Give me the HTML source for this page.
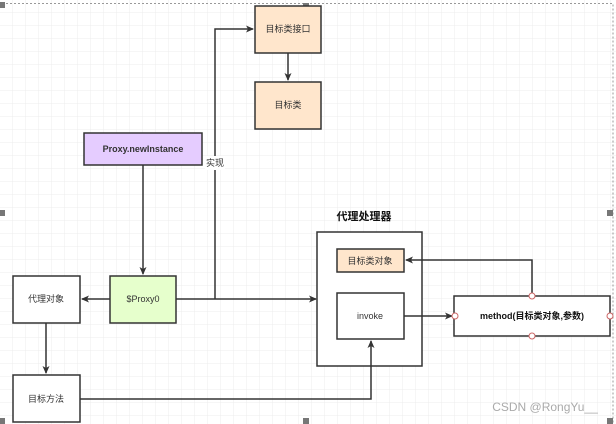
<!DOCTYPE html>
<html><head><meta charset="utf-8"><style>
body{margin:0;width:616px;height:424px;overflow:hidden;background:#fff}
svg{display:block}
text{font-family:"Liberation Sans","Noto Sans CJK SC",sans-serif;font-size:9px;fill:#333;text-anchor:middle;dominant-baseline:central}
</style></head><body>
<svg width="616" height="424" viewBox="0 0 616 424">
<defs>
<pattern id="g" width="13" height="13" patternUnits="userSpaceOnUse"><path d="M13 0V13H0" fill="none" stroke="#ececec" stroke-width="1"/></pattern>
<marker id="a" markerWidth="8" markerHeight="8" refX="7" refY="4" orient="auto" markerUnits="userSpaceOnUse"><path d="M0,0.5L8,4L0,7.5L2,4Z" fill="#333"/></marker>
</defs>
<rect width="616" height="424" fill="url(#g)"/>
<path d="M2 3.5H613V424" fill="none" stroke="#999" stroke-dasharray="2,2"/>
<g fill="#777"><rect x="0" y="2" width="5" height="6"/><rect x="303" y="3" width="6" height="6"/><rect x="0" y="210" width="5" height="6"/><rect x="607" y="210" width="6" height="6"/><rect x="0" y="418" width="5" height="6"/><rect x="303" y="418" width="6" height="6"/><rect x="607" y="418" width="6" height="6"/></g>
<g stroke="#333" stroke-width="1.5">
<rect x="255" y="6" width="66" height="47" fill="#ffe6cc"/>
<rect x="255" y="82" width="66" height="47" fill="#ffe6cc"/>
<rect x="84" y="133" width="118" height="32" fill="#e5ccff"/>
<rect x="13" y="276" width="67" height="47" fill="#fff"/>
<rect x="110" y="276" width="66" height="47" fill="#e6ffcc"/>
<rect x="13" y="375" width="67" height="47" fill="#fff"/>
<rect x="317" y="232" width="105" height="134" fill="#fff"/>
<rect x="337" y="249" width="67" height="23" fill="#ffe6cc"/>
<rect x="337" y="293" width="67" height="46" fill="#fff"/>
<rect x="454" y="296" width="156" height="40" fill="#fff"/>
</g>
<g stroke="#333" stroke-width="1.5" fill="none">
<path d="M215 299V29H253" marker-end="url(#a)"/>
<path d="M288 53V80" marker-end="url(#a)"/>
<path d="M143 165V274" marker-end="url(#a)"/>
<path d="M110 299H82" marker-end="url(#a)"/>
<path d="M176 299H316" marker-end="url(#a)"/>
<path d="M46 323V373" marker-end="url(#a)"/>
<path d="M80 399H371V341" marker-end="url(#a)"/>
<path d="M404 316H452" marker-end="url(#a)"/>
<path d="M532 296V260H406" marker-end="url(#a)"/>
</g>
<g fill="#fff" stroke="#c66" stroke-width="1"><circle cx="532" cy="296" r="3"/><circle cx="532" cy="336" r="3"/><circle cx="455" cy="316" r="3"/><circle cx="610" cy="316" r="3"/></g>
<rect x="205" y="156" width="20" height="14" fill="#fff"/>
<text x="215" y="163">实现</text>
<text x="288" y="29">目标类接口</text>
<text x="288" y="105">目标类</text>
<text x="143" y="149" style="font-weight:bold">Proxy.newInstance</text>
<text x="46" y="299">代理对象</text>
<text x="143" y="299">$Proxy0</text>
<text x="46" y="399">目标方法</text>
<text x="364" y="217" style="font-weight:bold;font-size:11px;fill:#111">代理处理器</text>
<text x="370" y="261">目标类对象</text>
<text x="370" y="316">invoke</text>
<text x="532" y="316" style="font-weight:bold;fill:#111">method(目标类对象,参数)</text>
<text x="545" y="407" style="font-size:12px;fill:#aaa">CSDN @RongYu__</text>
</svg>
</body></html>
